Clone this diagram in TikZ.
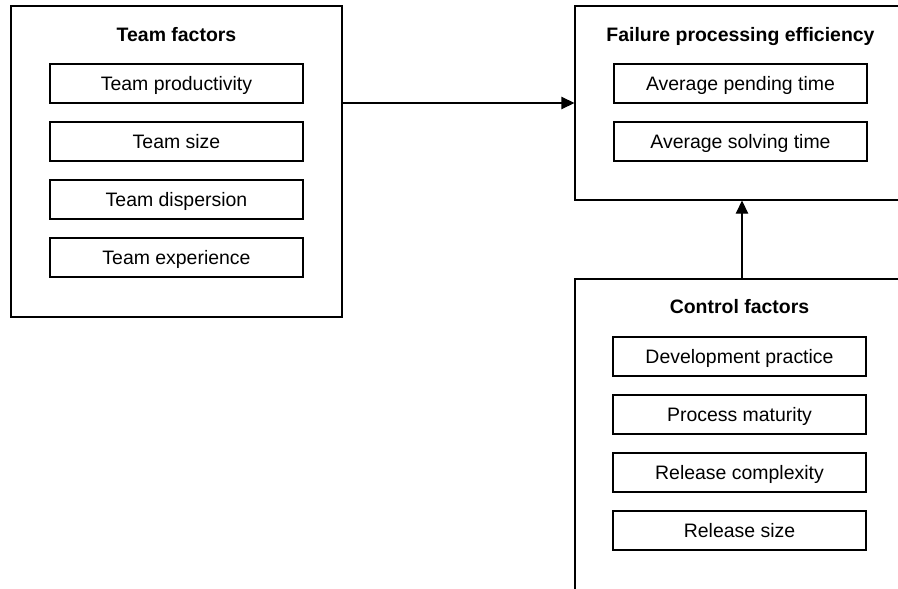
\documentclass[tikz,border=0pt]{standalone}
\usepackage{fontspec}
\setmainfont{Liberation Sans}
\usetikzlibrary{arrows.meta}

\tikzset{
    groupbox/.style={draw, line width=0.95pt, minimum width=10.02cm},
    factorbox/.style={draw, line width=0.95pt, minimum width=7.59cm, minimum height=1.17cm,
        font=\fontsize{16.6}{19}\selectfont, text height=11.9pt, text depth=0pt, inner sep=0pt},
    grouptitle/.style={anchor=base, inner sep=0pt, font=\fontsize{16.6}{19}\selectfont\bfseries},
    flow/.style={line width=0.95pt, -{Triangle[length=0.39cm, width=0.37cm]}}
}

\begin{document}
\begin{tikzpicture}[x=0.03cm, y=-0.03cm]

    % Frame
    \useasboundingbox (0,0) rectangle (898,588);
    \clip (0,0) rectangle (898,588);

    % Team factors
    \node[groupbox, minimum width=9.93cm, minimum height=9.33cm] (team) at (176.5,161.5) {};
    \node[grouptitle] (teamtitle) at (176.5,41.7) {Team factors};
    \node[factorbox] (prod) at (176.5,83.5) {Team productivity};
    \node[factorbox] (size) at (176.5,141.5) {Team size};
    \node[factorbox] (disp) at (176.5,199.5) {Team dispersion};
    \node[factorbox] (exper) at (176.5,257.5) {Team experience};

    % Failure processing efficiency
    \node[groupbox, minimum height=5.82cm] (fail) at (742,103) {};
    \node[grouptitle] (failtitle) at (740.5,41.7) {Failure processing efficiency};
    \node[factorbox] (pending) at (740.5,83.5) {Average pending time};
    \node[factorbox] (solving) at (740.5,141.5) {Average solving time};

    % Control factors
    \node[groupbox, minimum height=9.63cm] (ctrl) at (742,439.5) {};
    \node[grouptitle] (ctrltitle) at (739.5,313) {Control factors};
    \node[factorbox] (practice) at (739.5,356.5) {Development practice};
    \node[factorbox] (maturity) at (739.5,414.5) {Process maturity};
    \node[factorbox] (complex) at (739.5,472.5) {Release complexity};
    \node[factorbox] (relsize) at (739.5,530.5) {Release size};

    % Influences
    \draw[flow] (team.east |- fail.west) -- (fail.west);
    \draw[flow] (ctrl.north -| fail.south) -- (fail.south);

\end{tikzpicture}
\end{document}
